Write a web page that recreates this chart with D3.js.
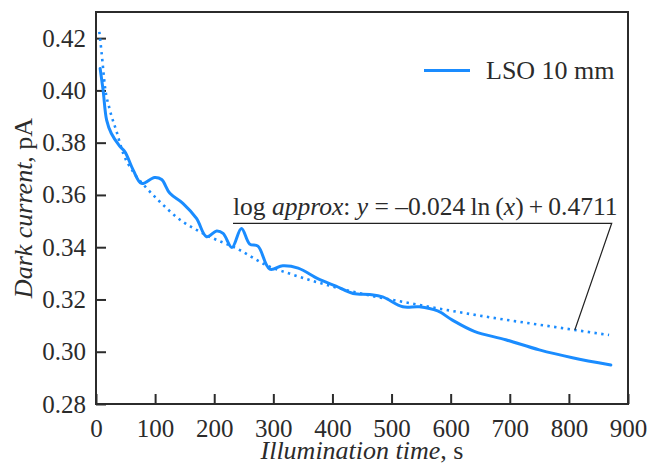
<!DOCTYPE html>
<html>
<head>
<meta charset="utf-8">
<script src="https://cdn.jsdelivr.net/npm/d3@7/dist/d3.min.js"></script>
<style>
  html, body { margin: 0; padding: 0; background: #fff; }
  svg { display: block; }
  text { font-family: "Liberation Serif", "Times New Roman", serif; fill: #2b2b2b; }
</style>
</head>
<body>
<svg id="chart" width="650" height="465"></svg>
<script>
// ---- data ----
const timeS = [7, 12, 18, 26, 40, 49, 63, 77, 99, 111, 125, 147, 170, 187, 204, 215, 230, 246, 260, 274, 294, 316, 342, 376, 406, 435, 463, 485, 519, 547, 578, 603, 640, 693, 750, 806, 871];
const darkCurrent = [0.4084, 0.4001, 0.3886, 0.3835, 0.3787, 0.3765, 0.3695, 0.3644, 0.3667, 0.3659, 0.3606, 0.3568, 0.3510, 0.3440, 0.3462, 0.3453, 0.3399, 0.3472, 0.3412, 0.3404, 0.3316, 0.3329, 0.3320, 0.3279, 0.3251, 0.3223, 0.3219, 0.3210, 0.3172, 0.3172, 0.3156, 0.3121, 0.3078, 0.3046, 0.3007, 0.2977, 0.2949];

const fitTime = [5.6, 9.6, 15.2, 23.6, 35, 46, 63, 86, 108, 136, 187, 238, 294, 322, 423, 547, 660, 772, 868];
const fitCurrent = [0.4224, 0.4141, 0.4013, 0.3924, 0.3841, 0.3759, 0.3688, 0.3625, 0.3574, 0.3516, 0.3446, 0.3395, 0.3325, 0.3303, 0.3236, 0.3179, 0.3134, 0.3096, 0.3064];

const xTicks = [0, 100, 200, 300, 400, 500, 600, 700, 800, 900];
const yTicks = [0.28, 0.30, 0.32, 0.34, 0.36, 0.38, 0.40, 0.42];
const seriesName = "LSO 10 mm";
const leaderAnchor = [810, 0.3083];

// ---- layout ----
const svg = d3.select("#chart");
const L = 96, R = 628, T = 12, B = 404;
const blue = "#1a8cff";
const ink = "#2b2b2b";
const serif = '"Liberation Serif", "Times New Roman", serif';

const x = d3.scaleLinear().domain([0, 900]).range([L, R]);
const y = d3.scaleLinear().domain([0.28, 0.43]).range([B, T]);

// axes
const xAxis = d3.axisBottom(x).tickValues(xTicks).tickFormat(d3.format("d"))
  .tickSizeInner(-10).tickSizeOuter(0).tickPadding(15);
const yAxis = d3.axisLeft(y).tickValues(yTicks).tickFormat(d3.format(".2f"))
  .tickSizeInner(-10).tickSizeOuter(0).tickPadding(10);

const gx = svg.append("g").attr("transform", `translate(0,${B})`).call(xAxis);
const gy = svg.append("g").attr("transform", `translate(${L},0)`).call(yAxis);
[gx, gy].forEach(g => {
  g.select(".domain").remove();
  g.selectAll(".tick line").attr("stroke", ink).attr("stroke-width", 2);
  g.selectAll(".tick text").style("font-size", "25px").attr("fill", ink)
    .style("font-family", serif);
});

// frame
svg.append("rect").attr("x", L).attr("y", T).attr("width", R - L).attr("height", B - T)
  .attr("fill", "none").attr("stroke", ink).attr("stroke-width", 2);

// fit (dotted)
const fitData = fitTime.map((t, i) => [t, fitCurrent[i]]);
svg.append("path").datum(fitData)
  .attr("fill", "none").attr("stroke", blue).attr("stroke-width", 2.6)
  .attr("stroke-dasharray", "2.4,4.4")
  .attr("d", d3.line().x(d => x(d[0])).y(d => y(d[1])).curve(d3.curveMonotoneX));

// measured (solid)
const data = timeS.map((t, i) => [t, darkCurrent[i]]);
svg.append("path").datum(data)
  .attr("fill", "none").attr("stroke", blue).attr("stroke-width", 3)
  .attr("stroke-linejoin", "round").attr("stroke-linecap", "round")
  .attr("d", d3.line().x(d => x(d[0])).y(d => y(d[1])).curve(d3.curveCatmullRom.alpha(0.5)));

// legend
svg.append("line").attr("x1", 424).attr("x2", 470).attr("y1", 70.5).attr("y2", 70.5)
  .attr("stroke", blue).attr("stroke-width", 3);
svg.append("text").attr("x", 486).attr("y", 79).style("font-size", "26px").text(seriesName);

// annotation
const ann = svg.append("text").attr("x", 233).attr("y", 215).style("font-size", "25.5px");
ann.append("tspan").text("log ");
ann.append("tspan").style("font-style", "italic").text("approx");
ann.append("tspan").text(": ");
ann.append("tspan").style("font-style", "italic").text("y");
ann.append("tspan").text(" = \u20130.024\u2009ln\u2009(");
ann.append("tspan").style("font-style", "italic").text("x");
ann.append("tspan").text(")\u2009+\u20090.4711");

const ux1 = 233, ux2 = 611.7, uy = 223.3;
svg.append("polyline")
  .attr("points", `${ux1},${uy} ${ux2},${uy} ${x(leaderAnchor[0])},${y(leaderAnchor[1])}`)
  .attr("fill", "none").attr("stroke", "#222").attr("stroke-width", 1.2);

// axis titles
const xt = svg.append("text").attr("x", (L + R) / 2).attr("y", 459).attr("text-anchor", "middle")
  .style("font-size", "26px");
xt.append("tspan").style("font-style", "italic").text("Illumination time");
xt.append("tspan").text(", s");

const yt = svg.append("text").attr("transform", `translate(32,${(T + B) / 2}) rotate(-90)`)
  .attr("text-anchor", "middle").style("font-size", "26px");
yt.append("tspan").style("font-style", "italic").text("Dark current");
yt.append("tspan").text(", pA");
</script>
</body>
</html>
